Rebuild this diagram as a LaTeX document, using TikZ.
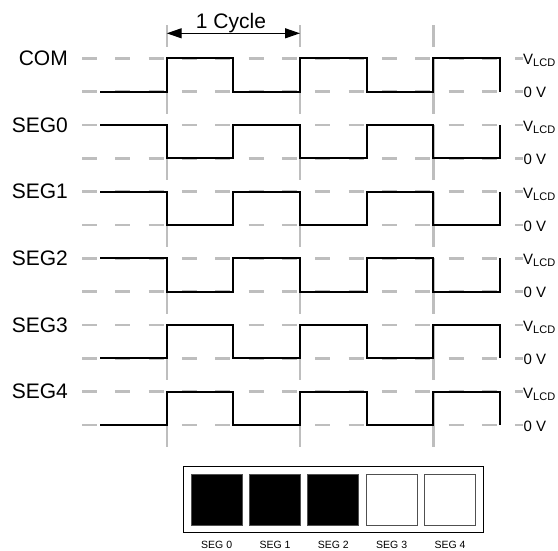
\documentclass[tikz,border=0pt]{standalone}
\usepackage{fontspec}
\setmainfont{Liberation Sans}
\usetikzlibrary{arrows.meta}
\definecolor{gridgray}{RGB}{190,190,190}
\definecolor{boxgray}{RGB}{80,80,80}
\begin{document}
\begin{tikzpicture}[x=1pt,y=-1pt,
  hgrid/.style={draw=gridgray,line width=2.6pt,dash pattern=on 15pt off 18.33pt},
  vgrid/.style={draw=gridgray,line width=2.4pt},
  sig/.style={draw=black,line width=2pt,line join=miter},
  rowlbl/.style={font=\fontsize{21}{24}\selectfont,inner sep=0pt,anchor=base east},
  vlbl/.style={font=\fontsize{15}{18}\selectfont,inner sep=0pt,anchor=base west},
  segbox/.style={draw=boxgray,line width=1pt,minimum width=51pt,minimum height=50.7pt,inner sep=0pt},
  seglbl/.style={font=\fontsize{10.5}{12}\selectfont,inner sep=0pt,anchor=base}
]
\useasboundingbox (0,0) rectangle (558,550);
\clip (0,0) rectangle (558,550);
% horizontal dashed grid
\foreach \n/\yh/\yl/\ya/\yb in {COM/58.3/91.6/91.6/58.3, SEG0/125/158.3/125/158.3, SEG1/191.7/225/191.7/225, SEG2/258.3/291.6/258.3/291.6, SEG3/325/358.3/358.3/325, SEG4/391.7/425/425/391.7}{
  \draw[hgrid] (82,\yh) -- (523,\yh);
  \draw[hgrid] (82,\yl) -- (523,\yl);
  \foreach \x in {166.7,300,433.3}{
    \draw[vgrid] (\x,\yh) -- (\x,\yl+22);
  }
}
\foreach \x in {166.7,300,433.3}{
  \draw[vgrid] (\x,25) -- (\x,46.7);
}
% signals and labels
\foreach \n/\yh/\yl/\ya/\yb in {COM/58.3/91.6/91.6/58.3, SEG0/125/158.3/125/158.3, SEG1/191.7/225/191.7/225, SEG2/258.3/291.6/258.3/291.6, SEG3/325/358.3/358.3/325, SEG4/391.7/425/425/391.7}{
  \draw[sig] (100,\ya) -- (166.7,\ya) -- (166.7,\yb) -- (233.3,\yb) -- (233.3,\ya)
     -- (300,\ya) -- (300,\yb) -- (366.7,\yb) -- (366.7,\ya) -- (433.3,\ya)
     -- (433.3,\yb) -- (500,\yb) -- (500,\ya);
  \node[rowlbl] (lab-\n) at (68,\yh+7) {\n};
  \node[vlbl] (vl-\n) at (523,\yh+6.6) {V\raisebox{-1.8pt}{\fontsize{11}{13}\selectfont LCD}};
  \node[vlbl] (zv-\n) at (523.5,\yl+6.3) {0 V};
}
% cycle arrow
\coordinate (cyA) at (166.7,33.3);
\coordinate (cyB) at (300,33.3);
\draw[line width=1.3pt,{Triangle[length=15pt,width=10pt]}-{Triangle[length=15pt,width=10pt]}] (cyA) -- (cyB);
\node[font=\fontsize{21}{24}\selectfont,inner sep=0pt,anchor=base] (cyc) at (231,28.3) {1 Cycle};
% LCD display
\node[draw=black,line width=1.3pt,minimum width=300pt,minimum height=66pt,inner sep=0pt] (lcd) at (333.3,499.7) {};
\foreach \i/\cx/\f in {0/216.7/black, 1/275/black, 2/333.3/black, 3/391.7/white, 4/450/white}{
  \node[segbox,fill=\f] (sq\i) at (\cx,499.7) {};
  \node[seglbl] (sl\i) at (\cx,548) {SEG \i};
}
\end{tikzpicture}
\end{document}
